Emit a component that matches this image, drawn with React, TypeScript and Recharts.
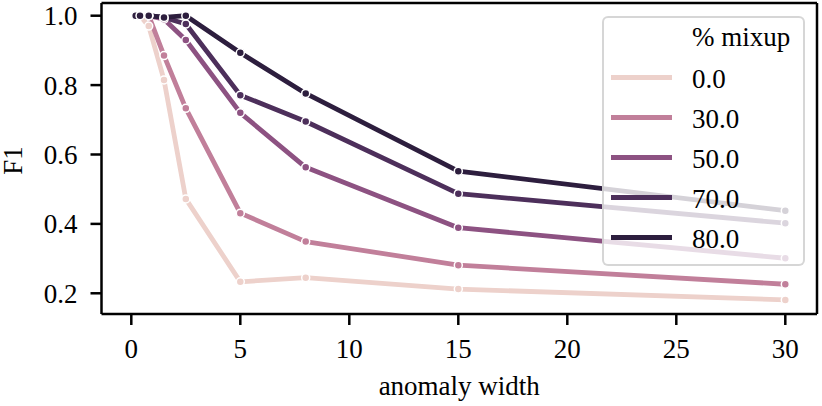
import React from "react";
import { LineChart, Line, XAxis, YAxis, Legend, Label, ReferenceLine } from "recharts";

// anomaly widths (x) and F1 per % mixup level
const widths = [0.2, 0.4, 0.8, 1.5, 2.5, 5, 8, 15, 30];
const mixupLevels = ["0.0", "30.0", "50.0", "70.0", "80.0"];
const f1Mix0 = [1.0, 1.0, 0.97, 0.815, 0.472, 0.233, 0.245, 0.212, 0.181];
const f1Mix30 = [1.0, 1.0, 1.0, 0.885, 0.733, 0.431, 0.349, 0.281, 0.226];
const f1Mix50 = [1.0, 1.0, 1.0, 0.99, 0.93, 0.72, 0.563, 0.389, 0.301];
const f1Mix70 = [1.0, 1.0, 1.0, 0.995, 0.976, 0.771, 0.695, 0.487, 0.402];
const f1Mix80 = [1.0, 1.0, 1.0, 0.995, 1.0, 0.893, 0.776, 0.552, 0.438];
const xTicks = [0, 5, 10, 15, 20, 25, 30];
const yTicks = [0.2, 0.4, 0.6, 0.8, 1.0];

const colors = ["#edd1cb", "#c17f9a", "#8d5282", "#4d2f5b", "#2d1e3e"];
const keys = ["m0", "m30", "m50", "m70", "m80"];
const series = [f1Mix0, f1Mix30, f1Mix50, f1Mix70, f1Mix80];

const data = widths.map((w, i) => {
  const row: Record<string, number> = { width: w };
  keys.forEach((k, j) => (row[k] = series[j][i]));
  return row;
});

const X_MIN = -1.367;
const X_MAX = 31.454;
const Y_MIN = 0.1403;
const Y_MAX = 1.0366;

const font = "'Liberation Serif', 'Times New Roman', serif";
const tickStyle = { fill: "#000", fontSize: 27, fontFamily: font };
const axisLine = { stroke: "#000", strokeWidth: 2.5 };

const LegendBox = () => (
  <div
    style={{
      width: 203,
      height: 250,
      boxSizing: "border-box",
      border: "2.5px solid rgba(204,204,204,0.8)",
      borderRadius: 6,
      background: "rgba(255,255,255,0.8)",
    }}
  >
    <svg width={198} height={245} style={{ display: "block" }}>
      <text x={88} y={28} fontSize={27} fontFamily={font} fill="#000">
        % mixup
      </text>
      {mixupLevels.map((lvl, i) => (
        <g key={lvl}>
          <line x1={7} x2={68} y1={59.5 + 40 * i} y2={59.5 + 40 * i} stroke={colors[i]} strokeWidth={5} />
          <text x={88} y={70 + 40 * i} fontSize={27} fontFamily={font} fill="#000">
            {lvl}
          </text>
        </g>
      ))}
    </svg>
  </div>
);

const App: React.FC = () => {
  return (
    <div style={{ position: "absolute", left: 0, top: 0 }}>
      <LineChart width={822} height={406} data={data} margin={{ top: 3, right: 5, bottom: 0, left: 0 }}>
        <XAxis
          dataKey="width"
          type="number"
          domain={[X_MIN, X_MAX]}
          allowDataOverflow
          ticks={xTicks}
          tick={tickStyle}
          tickSize={11}
          tickMargin={14}
          axisLine={axisLine}
          tickLine={axisLine}
          height={92}
        >
          <Label
            value="anomaly width"
            position="insideBottom"
            offset={11}
            style={{ fill: "#000", fontSize: 27, fontFamily: font }}
          />
        </XAxis>
        <YAxis
          type="number"
          domain={[Y_MIN, Y_MAX]}
          allowDataOverflow
          ticks={yTicks}
          tickFormatter={(v: number) => v.toFixed(1)}
          tick={tickStyle}
          tickSize={11}
          tickMargin={13}
          axisLine={axisLine}
          tickLine={axisLine}
          width={101.5}
        >
          <Label
            content={(props: any) => {
              const vb = props.viewBox || { x: 0, y: 3, height: 311 };
              const cy = vb.y + vb.height / 2 + 2;
              const cx = vb.x + 21.5;
              return (
                <text
                  x={cx}
                  y={cy}
                  transform={`rotate(-90 ${cx} ${cy})`}
                  textAnchor="middle"
                  fontSize={27}
                  fontFamily={font}
                  fill="#000"
                >
                  F1
                </text>
              );
            }}
          />
        </YAxis>
        <ReferenceLine y={Y_MAX} stroke="#000" strokeWidth={2.5} ifOverflow="visible" />
        <ReferenceLine x={X_MAX} stroke="#000" strokeWidth={2.5} ifOverflow="visible" />
        {keys.map((k, i) => (
          <Line
            key={k}
            dataKey={k}
            type="linear"
            stroke={colors[i]}
            strokeWidth={4.8}
            strokeLinejoin="round"
            dot={{ r: 4, fill: colors[i], stroke: "#fff", strokeWidth: 1.5 }}
            activeDot={false}
            isAnimationActive={false}
          />
        ))}
        <Legend
          layout="horizontal"
          align="center"
          verticalAlign="middle"
          content={() => <LegendBox />}
          wrapperStyle={{ left: 601.7, top: 16, width: 203, height: 250 }}
        />
      </LineChart>
    </div>
  );
};

export default App;
